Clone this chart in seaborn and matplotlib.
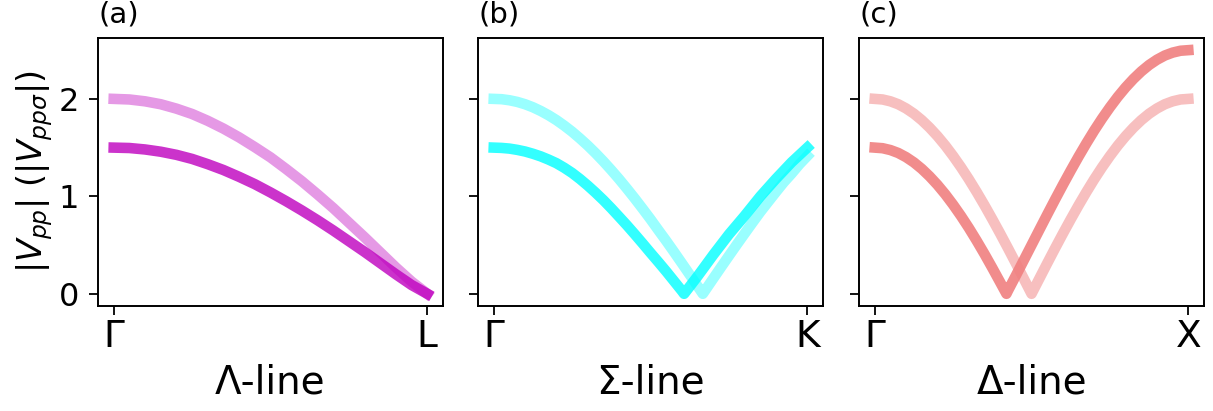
import matplotlib
matplotlib.use("Agg")
import matplotlib.pyplot as plt
import seaborn as sns
import pandas as pd

# ---------------- data ----------------
x_grid = [0.00, 0.05, 0.10, 0.15, 0.20, 0.25, 0.30, 0.35, 0.40, 0.45, 0.50,
          0.55, 0.60, 0.65, 0.70, 0.75, 0.80, 0.85, 0.90, 0.95, 1.00]
x_fine = [0.000, 0.025, 0.050, 0.075, 0.100, 0.125, 0.150, 0.175, 0.200, 0.225,
          0.250, 0.275, 0.300, 0.325, 0.350, 0.375, 0.400, 0.425, 0.450, 0.475,
          0.500, 0.525, 0.550, 0.575, 0.600, 0.625, 0.650, 0.675, 0.700, 0.725,
          0.750, 0.775, 0.800, 0.825, 0.850, 0.875, 0.900, 0.925, 0.950, 0.975, 1.000]

# (a) Lambda line
lam_light = [2.000, 1.994, 1.975, 1.945, 1.900, 1.845, 1.775, 1.695, 1.605, 1.505, 1.400,
             1.280, 1.155, 1.020, 0.880, 0.730, 0.580, 0.425, 0.270, 0.125, 0.000]
lam_dark = [1.500, 1.496, 1.481, 1.458, 1.426, 1.384, 1.330, 1.270, 1.200, 1.125, 1.040,
            0.950, 0.855, 0.755, 0.650, 0.540, 0.430, 0.315, 0.200, 0.090, 0.000]

# (b) Sigma line
sig_light_x = x_fine[:27] + [0.6667] + x_fine[27:]
sig_light = [2.000, 1.997, 1.986, 1.969, 1.945, 1.914, 1.876, 1.832, 1.782, 1.725,
             1.663, 1.594, 1.521, 1.442, 1.358, 1.269, 1.176, 1.078, 0.977, 0.872,
             0.765, 0.653, 0.543, 0.429, 0.313, 0.196, 0.079, 0.000, 0.039, 0.157,
             0.274, 0.390, 0.505, 0.618, 0.730, 0.840, 0.943, 1.045, 1.145, 1.234,
             1.330, 1.414]
sig_dark_x = x_fine[:25] + [0.607] + x_fine[25:]
sig_dark = [1.500, 1.497, 1.490, 1.477, 1.460, 1.437, 1.410, 1.377, 1.340, 1.293,
            1.240, 1.178, 1.110, 1.037, 0.960, 0.877, 0.790, 0.702, 0.610, 0.516,
            0.420, 0.326, 0.230, 0.130, 0.030, 0.000, 0.075, 0.180, 0.290, 0.400,
            0.505, 0.610, 0.705, 0.800, 0.900, 1.000, 1.090, 1.180, 1.265, 1.350,
            1.425, 1.500]

# (c) Delta line
del_light_x = x_fine
del_light = [2.000, 1.994, 1.975, 1.945, 1.902, 1.848, 1.782, 1.705, 1.618, 1.521,
             1.414, 1.299, 1.176, 1.045, 0.908, 0.765, 0.618, 0.467, 0.313, 0.157,
             0.000, 0.157, 0.313, 0.467, 0.618, 0.765, 0.908, 1.045, 1.176, 1.299,
             1.414, 1.521, 1.618, 1.705, 1.782, 1.848, 1.902, 1.945, 1.975, 1.994,
             2.000]
del_dark_x = x_fine[:17] + [0.42] + x_fine[17:]
del_dark = [1.500, 1.494, 1.475, 1.445, 1.402, 1.348, 1.282, 1.205, 1.118, 1.021,
            0.914, 0.799, 0.676, 0.545, 0.408, 0.265, 0.118, 0.000, 0.033, 0.187,
            0.343, 0.500, 0.657, 0.813, 0.967, 1.118, 1.265, 1.408, 1.545, 1.676,
            1.799, 1.914, 2.021, 2.118, 2.205, 2.282, 2.348, 2.402, 2.445, 2.475,
            2.494, 2.500]

panel_tags = ["(a)", "(b)", "(c)"]
end_labels = ["L", "K", "X"]
line_names = ["Λ-line", "Σ-line", "Δ-line"]
base_colors = ["#BF00BF", "#00FFFF", "#F08080"]
ylabel = r"$|V_{pp}|$ ($|V_{pp\sigma}|$)"

panels = [
    ((x_grid, lam_light), (x_grid, lam_dark)),
    ((sig_light_x, sig_light), (sig_dark_x, sig_dark)),
    ((del_light_x, del_light), (del_dark_x, del_dark)),
]
alphas_light = [0.4, 0.4, 0.5]
alphas_dark = [0.8, 0.8, 0.9]

# ---------------- plotting ----------------
sns.set_theme(style="ticks")
plt.rcParams["font.family"] = ["DejaVu Sans"]
plt.rcParams["mathtext.fontset"] = "dejavusans"

fig = plt.figure(figsize=(12.13, 4.11), dpi=100)
lefts = [0.0808, 0.3941, 0.7082]
bottom, width, height = 0.2555, 0.2844, 0.6521

axes = []
for i in range(3):
    ax = fig.add_axes([lefts[i], bottom, width, height],
                      sharey=axes[0] if axes else None)
    axes.append(ax)
    (lx, ly), (dx, dy) = panels[i]
    df_l = pd.DataFrame({"k": lx, "v": ly})
    df_d = pd.DataFrame({"k": dx, "v": dy})
    sns.lineplot(data=df_l, x="k", y="v", ax=ax, color=base_colors[i],
                 alpha=alphas_light[i], linewidth=7.6, estimator=None, sort=False,
                 solid_capstyle="projecting")
    sns.lineplot(data=df_d, x="k", y="v", ax=ax, color=base_colors[i],
                 alpha=alphas_dark[i], linewidth=7.6, estimator=None, sort=False,
                 solid_capstyle="projecting")
    ax.set_xticks([0, 1])
    ax.set_xticklabels(["Γ", end_labels[i]])
    ax.set_xlabel(line_names[i], fontsize=28, labelpad=6, color="black")
    ax.set_ylabel("")
    ax.set_yticks([0, 1, 2])
    ax.tick_params(axis="both", length=6.5, width=1.3, color="black",
                   labelcolor="black")
    ax.tick_params(axis="x", labelsize=27, pad=3)
    ax.tick_params(axis="y", labelsize=23, pad=7)
    for sp in ax.spines.values():
        sp.set_linewidth(1.4)
        sp.set_color("black")
        sp.set_visible(True)
    ax.set_title(panel_tags[i], loc="left", fontsize=21, pad=11, color="black")
    if i > 0:
        ax.tick_params(axis="y", labelleft=False)

axes[0].set_ylabel(ylabel, fontsize=24, labelpad=3, color="black")

fig.savefig("out.png", dpi=100)
